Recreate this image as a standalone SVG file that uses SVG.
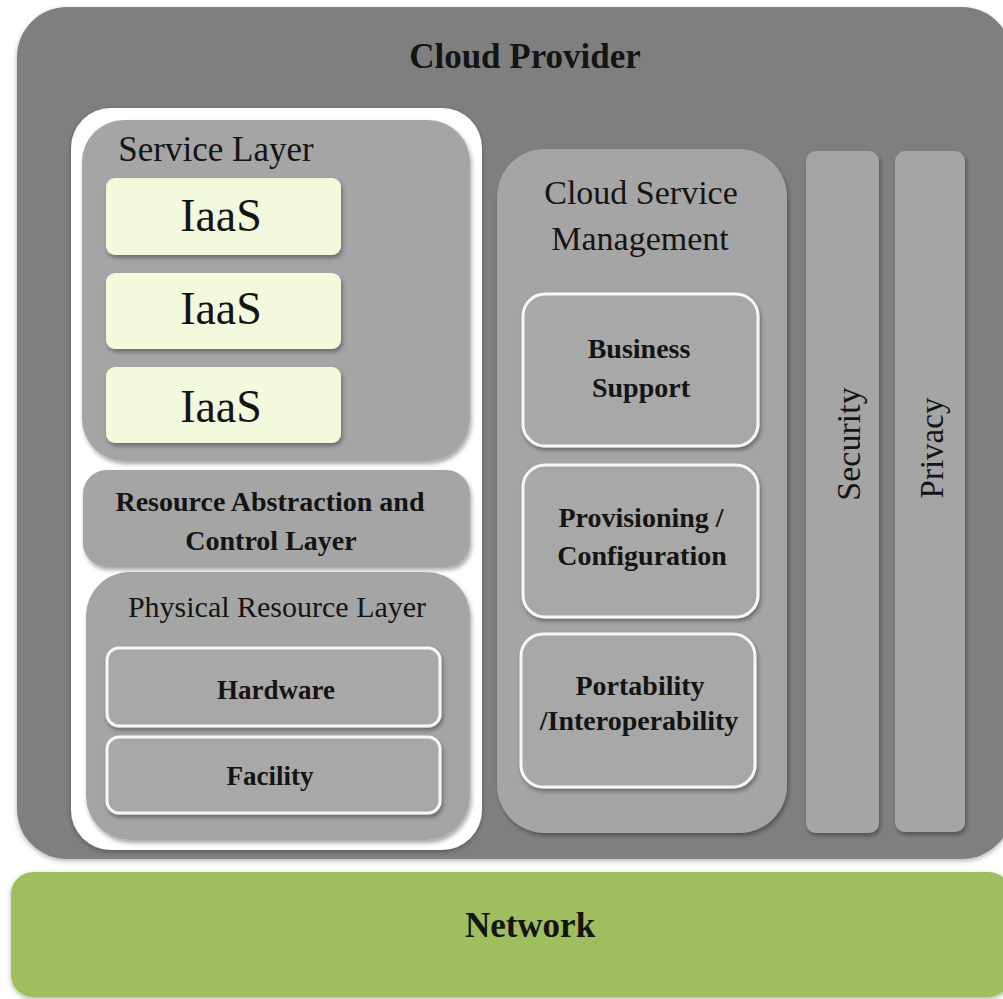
<svg xmlns="http://www.w3.org/2000/svg" width="1003" height="999" viewBox="0 0 1003 999">
  <style>
    text { font-family: "Liberation Serif", "Times New Roman", serif; fill: #141414; text-anchor: middle; }
    .b { font-weight: bold; }
    .provider { fill: #7f7f7f; }
    .layer { fill: #a5a5a5; }
    .panel { fill: #ffffff; }
    .svc { fill: #f3f9dc; }
    .item { fill: #a8a8a8; stroke: #f7f7f7; stroke-width: 3; }
    .net { fill: #9fbf5f; }
  </style>
  <defs>
    <filter id="soft" x="-5%" y="-5%" width="110%" height="110%">
      <feDropShadow dx="0" dy="2" stdDeviation="2.5" flood-color="#000" flood-opacity="0.3"/>
    </filter>
    <filter id="shadow" x="-10%" y="-10%" width="125%" height="125%">
      <feDropShadow dx="1.5" dy="3" stdDeviation="2" flood-color="#000" flood-opacity="0.35"/>
    </filter>
  </defs>

  <!-- provider frame -->
  <g id="cloud-provider">
    <rect class="provider" x="17" y="7" width="995" height="852" rx="50" filter="url(#soft)"/>
    <text class="b" x="525" y="68" font-size="35">Cloud Provider</text>
  </g>

  <!-- network base -->
  <g id="network">
    <rect class="net" x="11" y="872" width="1000" height="125" rx="22" filter="url(#soft)"/>
    <text class="b" x="530" y="937" font-size="35">Network</text>
  </g>

  <!-- left stack: service, abstraction, physical -->
  <g id="stack-panel">
    <rect class="panel" x="71" y="108" width="411" height="742" rx="40" filter="url(#soft)"/>
  </g>

  <g id="service-layer">
    <rect class="layer" x="82" y="120" width="388" height="341" rx="42" filter="url(#shadow)"/>
    <text x="216" y="161" font-size="35">Service Layer</text>
  </g>

  <g id="iaas-1">
    <rect class="svc" x="106" y="178" width="235" height="77" rx="9" filter="url(#shadow)"/>
    <text x="221" y="231" font-size="46">IaaS</text>
  </g>
  <g id="iaas-2">
    <rect class="svc" x="106" y="273" width="235" height="76" rx="9" filter="url(#shadow)"/>
    <text x="221" y="324" font-size="46">IaaS</text>
  </g>
  <g id="iaas-3">
    <rect class="svc" x="106" y="367" width="235" height="76" rx="9" filter="url(#shadow)"/>
    <text x="221" y="422" font-size="46">IaaS</text>
  </g>

  <g id="resource-abstraction">
    <rect class="layer" x="83" y="470" width="387" height="97" rx="24" filter="url(#shadow)"/>
    <text class="b" x="270" y="511" font-size="28">Resource Abstraction and</text>
    <text class="b" x="271" y="550" font-size="28">Control Layer</text>
  </g>

  <g id="physical-layer">
    <rect class="layer" x="86" y="572" width="384" height="268" rx="44" filter="url(#shadow)"/>
    <text x="277" y="617" font-size="30">Physical Resource Layer</text>
  </g>

  <g id="hardware">
    <rect class="item" x="107" y="648" width="333" height="78" rx="12" filter="url(#shadow)"/>
    <text class="b" x="276" y="699" font-size="27">Hardware</text>
  </g>
  <g id="facility">
    <rect class="item" x="107" y="737" width="333" height="76" rx="12" filter="url(#shadow)"/>
    <text class="b" x="270" y="785" font-size="27">Facility</text>
  </g>

  <!-- management column -->
  <g id="cloud-service-management">
    <rect class="layer" x="497" y="149" width="290" height="684" rx="48" filter="url(#shadow)"/>
    <text x="641" y="204" font-size="34">Cloud Service</text>
    <text x="640" y="250" font-size="34">Management</text>
  </g>

  <g id="business-support">
    <rect class="item" x="523" y="294" width="235" height="152" rx="22" filter="url(#shadow)"/>
    <text class="b" x="639" y="358" font-size="28">Business</text>
    <text class="b" x="641" y="397" font-size="28">Support</text>
  </g>
  <g id="provisioning">
    <rect class="item" x="523" y="465" width="235" height="152" rx="22" filter="url(#shadow)"/>
    <text class="b" x="641" y="527" font-size="28">Provisioning /</text>
    <text class="b" x="642" y="565" font-size="28">Configuration</text>
  </g>
  <g id="portability">
    <rect class="item" x="521" y="634" width="234" height="153" rx="22" filter="url(#shadow)"/>
    <text class="b" x="640" y="695" font-size="28">Portability</text>
    <text class="b" x="639" y="730" font-size="28">/Interoperability</text>
  </g>

  <!-- cross-cutting columns -->
  <g id="security">
    <rect class="layer" x="806" y="151" width="73" height="682" rx="10" filter="url(#shadow)"/>
    <text transform="translate(860,444) rotate(-90)" x="0" y="0" font-size="34">Security</text>
  </g>
  <g id="privacy">
    <rect class="layer" x="895" y="151" width="70" height="681" rx="10" filter="url(#shadow)"/>
    <text transform="translate(943,448) rotate(-90)" x="0" y="0" font-size="33">Privacy</text>
  </g>

  <g id="connectors"/>
</svg>
